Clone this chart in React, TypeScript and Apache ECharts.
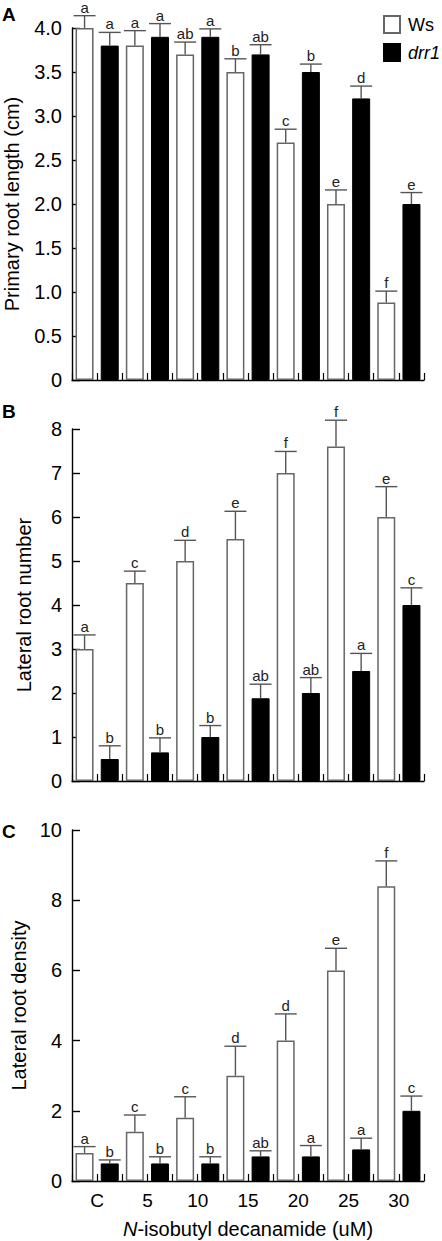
import React, { useEffect, useRef } from "react";
import * as echarts from "echarts";

const categories = ["C", "5", "10", "15", "20", "25", "30"];

// Panel A: primary root length (cm)
const aWs = [4.0, 3.8, 3.7, 3.5, 2.7, 2.0, 0.88];
const aWsErr = [0.14, 0.17, 0.14, 0.15, 0.15, 0.16, 0.13];
const aWsLetters = ["a", "a", "ab", "b", "c", "e", "f"];
const aDrr = [3.8, 3.9, 3.9, 3.7, 3.5, 3.2, 2.0];
const aDrrErr = [0.15, 0.15, 0.09, 0.11, 0.09, 0.14, 0.13];
const aDrrLetters = ["a", "a", "a", "ab", "b", "d", "e"];

// Panel B: lateral root number
const bWs = [3.0, 4.5, 5.0, 5.5, 7.0, 7.6, 6.0];
const bWsErr = [0.32, 0.27, 0.47, 0.63, 0.49, 0.6, 0.69];
const bWsLetters = ["a", "c", "d", "e", "f", "f", "e"];
const bDrr = [0.5, 0.65, 1.0, 1.88, 2.0, 2.5, 4.0];
const bDrrErr = [0.3, 0.33, 0.26, 0.32, 0.35, 0.4, 0.39];
const bDrrLetters = ["b", "b", "b", "ab", "ab", "a", "c"];

// Panel C: lateral root density
const cWs = [0.8, 1.4, 1.8, 3.0, 4.0, 6.0, 8.4];
const cWsErr = [0.18, 0.48, 0.6, 0.84, 0.76, 0.63, 0.72];
const cWsLetters = ["a", "c", "c", "d", "d", "e", "f"];
const cDrr = [0.5, 0.5, 0.5, 0.7, 0.7, 0.9, 2.0];
const cDrrErr = [0.1, 0.19, 0.19, 0.16, 0.31, 0.32, 0.42];
const cDrrLetters = ["b", "b", "b", "ab", "a", "a", "c"];

const FONT = "'Liberation Sans', Arial, Helvetica, sans-serif";
const GRID_LEFT = 72;
const GRID_W = 352;

const panels = [
  { top: 28, height: 352, max: 4, interval: 0.5, title: "Primary root length (cm)", ws: aWs, wsErr: aWsErr, wsL: aWsLetters, drr: aDrr, drrErr: aDrrErr, drrL: aDrrLetters, decimals: 1, nameGap: 50 },
  { top: 429, height: 352, max: 8, interval: 1, title: "Lateral root number", ws: bWs, wsErr: bWsErr, wsL: bWsLetters, drr: bDrr, drrErr: bDrrErr, drrL: bDrrLetters, decimals: 0, nameGap: 38 },
  { top: 830, height: 351, max: 10, interval: 2, title: "Lateral root density", ws: cWs, wsErr: cWsErr, wsL: cWsLetters, drr: cDrr, drrErr: cDrrErr, drrL: cDrrLetters, decimals: 0, nameGap: 38 },
];

function errSeries(gi: number, vals: number[], errs: number[], letters: string[], offset: number) {
  return {
    type: "custom",
    xAxisIndex: gi * 2,
    yAxisIndex: gi,
    silent: true,
    z: 5,
    data: vals.map((v, i) => [i, v, errs[i]]),
    renderItem: (params: any, api: any) => {
      const idx = api.value(0);
      const v = api.value(1);
      const e = api.value(2);
      const base = api.coord([idx, v]);
      const top = api.coord([idx, v + e]);
      const w = api.size([1, 0])[0];
      const x = base[0] + (offset * w) / 4;
      const st = { stroke: "#555", lineWidth: 1.4 };
      return {
        type: "group",
        children: [
          { type: "line", shape: { x1: x, y1: base[1], x2: x, y2: top[1] }, style: st },
          { type: "line", shape: { x1: x - 11, y1: top[1], x2: x + 11, y2: top[1] }, style: st },
          {
            type: "text",
            x: x,
            y: top[1] - 1,
            style: {
              text: letters[params.dataIndex],
              textAlign: "center",
              textVerticalAlign: "bottom",
              fontSize: 15,
              fontFamily: FONT,
              fill: "#222",
            },
          },
        ],
      };
    },
  };
}

export default function App() {
  const ref = useRef<HTMLDivElement>(null);
  useEffect(() => {
    document.body.style.margin = "0";
    const chart = echarts.init(ref.current!, null, { renderer: "svg" });
    const grids: any[] = [];
    const xAxes: any[] = [];
    const yAxes: any[] = [];
    const series: any[] = [];
    panels.forEach((p, gi) => {
      grids.push({ left: GRID_LEFT, width: GRID_W, top: p.top, height: p.height, containLabel: false, outerBoundsMode: "none" });
      const isLast = gi === panels.length - 1;
      xAxes.push({
        type: "category",
        gridIndex: gi,
        position: "bottom",
        data: categories,
        axisLine: { lineStyle: { color: "#000", width: 1.4 } },
        axisTick: { show: false },
        axisLabel: { show: isLast, color: "#000", fontSize: 19, fontFamily: FONT, margin: 10 },
        name: isLast ? "{i|N}-isobutyl decanamide (uM)" : "",
        nameLocation: "middle",
        nameGap: 38,
        nameTextStyle: {
          fontSize: 20,
          fontFamily: FONT,
          color: "#000",
          rich: { i: { fontStyle: "italic", fontSize: 20, fontFamily: FONT, color: "#000" } },
        },
      });
      xAxes.push({
        type: "category",
        gridIndex: gi,
        position: "bottom",
        data: new Array(14).fill(""),
        axisLine: { show: false },
        axisTick: { show: true, inside: true, length: 7, lineStyle: { color: "#000", width: 1.2 } },
        axisLabel: { show: false },
      });
      yAxes.push({
        type: "value",
        gridIndex: gi,
        min: 0,
        max: p.max,
        interval: p.interval,
        splitLine: { show: false },
        axisLine: { show: true, lineStyle: { color: "#000", width: 1.4 } },
        axisTick: { show: true, inside: true, length: 8, lineStyle: { color: "#000", width: 1.4 } },
        axisLabel: {
          color: "#000",
          fontSize: 20,
          fontFamily: FONT,
          margin: 10,
          formatter: (v: number) => (v === 0 ? "0" : v.toFixed(p.decimals)),
        },
        name: p.title,
        nameLocation: "middle",
        nameRotate: 90,
        nameGap: p.nameGap,
        nameTextStyle: { fontSize: 20, fontFamily: FONT, color: "#000" },
      });
      series.push({
        type: "bar",
        name: "Ws",
        xAxisIndex: gi * 2,
        yAxisIndex: gi,
        data: p.ws,
        barWidth: 18,
        barGap: "40%",
        itemStyle: { color: "#fff", borderColor: "#666", borderWidth: 1.5 },
      });
      series.push({
        type: "bar",
        name: "drr1",
        xAxisIndex: gi * 2,
        yAxisIndex: gi,
        data: p.drr,
        barWidth: 18,
        barGap: "40%",
        itemStyle: { color: "#000", borderColor: "#000", borderWidth: 1 },
      });
      series.push(errSeries(gi, p.ws, p.wsErr, p.wsL, -1));
      series.push(errSeries(gi, p.drr, p.drrErr, p.drrL, 1));
    });

    chart.setOption({
      animation: false,
      grid: grids,
      xAxis: xAxes,
      yAxis: yAxes,
      series,
      legend: {
        data: ["Ws", "drr1"],
        orient: "vertical",
        left: 378,
        top: 10,
        itemWidth: 16,
        itemHeight: 17,
        itemGap: 9,
        icon: "rect",
        selectedMode: false,
        formatter: (n: string) => (n === "drr1" ? "{i|drr1}" : "{n|" + n + "}"),
        textStyle: {
          fontSize: 18,
          fontFamily: FONT,
          color: "#000",
          padding: [0, 0, 0, 3],
          rich: {
            i: { fontStyle: "italic", fontSize: 18, fontFamily: FONT, color: "#000" },
            n: { fontSize: 18, fontFamily: FONT, color: "#000" },
          },
        },
      },
      graphic: [
        { type: "text", left: 2, top: 5, style: { text: "A", fontSize: 19, fontWeight: "bold", fontFamily: FONT, fill: "#000" } },
        { type: "text", left: 2, top: 402, style: { text: "B", fontSize: 19, fontWeight: "bold", fontFamily: FONT, fill: "#000" } },
        { type: "text", left: 2, top: 822, style: { text: "C", fontSize: 19, fontWeight: "bold", fontFamily: FONT, fill: "#000" } },
      ],
    });
    return () => chart.dispose();
  }, []);
  return <div ref={ref} style={{ position: "absolute", left: 0, top: 0, width: 442, height: 1241 }} />;
}
